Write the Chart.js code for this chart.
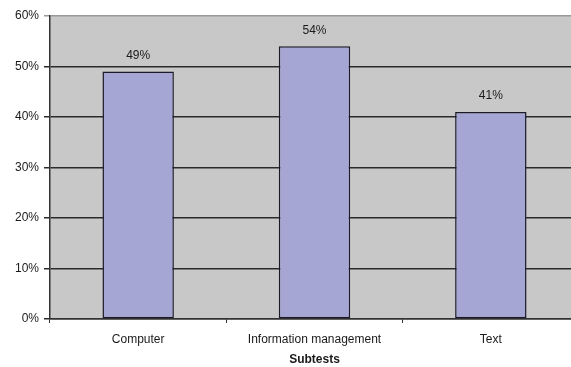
<!DOCTYPE html>
<html lang="en">
<head>
  <meta charset="UTF-8">
  <script src="https://cdn.jsdelivr.net/npm/chart.js"></script>
  <style>
    body, html {
      margin: 0;
      padding: 0;
      background: white;
      overflow: hidden;
    }
    .chart-box {
      position: relative;
      width: 582px;
      height: 367px;
    }
  </style>
</head>
<body>
  <div class="chart-box">
    <canvas id="subtestChart"></canvas>
  </div>
  <script>
    // Categories and values
    const categories = ["Computer", "Information management", "Text"];
    const scores = [49, 54, 41];
    const yTicks = [0, 10, 20, 30, 40, 50, 60];

    const FONT = '"Liberation Sans", Arial, sans-serif';

    // gray plot background
    const plotBg = {
      id: 'plotBg',
      beforeDraw(chart) {
        const { ctx, chartArea: a } = chart;
        ctx.save();
        ctx.fillStyle = '#c8c8c8';
        ctx.fillRect(a.left, a.top, a.right - a.left, a.bottom - a.top);
        ctx.restore();
      }
    };

    // percentage labels above each bar
    const valueLabels = {
      id: 'valueLabels',
      afterDatasetsDraw(chart) {
        const ctx = chart.ctx;
        const meta = chart.getDatasetMeta(0);
        ctx.save();
        ctx.font = '12px ' + FONT;
        ctx.fillStyle = '#1a1a1a';
        ctx.textAlign = 'center';
        ctx.textBaseline = 'middle';
        meta.data.forEach((bar, i) => {
          ctx.fillText(scores[i] + '%', bar.x, bar.y - 16);
        });
        ctx.restore();
      }
    };

    const ctx = document.getElementById('subtestChart').getContext('2d');
    new Chart(ctx, {
      type: 'bar',
      data: {
        labels: categories,
        datasets: [{
          data: scores,
          backgroundColor: '#a6a6d4',
          borderColor: '#1a1a2a',
          borderWidth: 1.5,
          borderSkipped: false,
          barPercentage: 0.405,
          categoryPercentage: 1
        }]
      },
      options: {
        responsive: true,
        maintainAspectRatio: false,
        animation: false,
        layout: { padding: { top: 16, right: 3, left: 0, bottom: 0 } },
        plugins: {
          legend: { display: false },
          tooltip: { enabled: false }
        },
        scales: {
          x: {
            grid: {
              display: true,
              drawOnChartArea: false,
              drawTicks: true,
              tickLength: 4,
              color: '#333',
              offset: true
            },
            border: { color: '#333', width: 1.5 },
            ticks: {
              color: '#1a1a1a',
              font: { family: FONT, size: 12 },
              padding: 9,
              maxRotation: 0
            },
            title: {
              display: true,
              text: 'Subtests',
              color: '#1a1a1a',
              font: { family: FONT, size: 12, weight: 'bold' },
              padding: { top: 2, bottom: 0 }
            },
            afterFit(scale) { scale.height = 48; }
          },
          y: {
            min: 0,
            max: 60,
            afterBuildTicks(scale) {
              scale.ticks = yTicks.map(v => ({ value: v }));
            },
            grid: {
              color: (c) => c.tick && c.tick.value === 60 ? '#999' : '#2a2a2a',
              lineWidth: 1.5,
              tickLength: 6,
              drawTicks: true
            },
            border: { color: '#333', width: 1.5 },
            ticks: {
              color: '#1a1a1a',
              font: { family: FONT, size: 12 },
              padding: 5,
              callback: (v) => v + '%'
            },
            afterFit(scale) { scale.width = 50; }
          }
        }
      },
      plugins: [plotBg, valueLabels]
    });
  </script>
</body>
</html>
